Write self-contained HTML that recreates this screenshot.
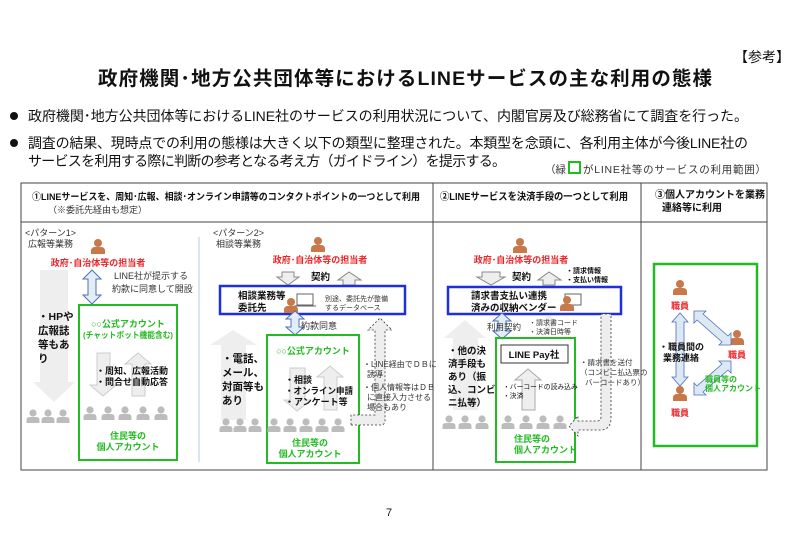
<!DOCTYPE html>
<html><head><meta charset="utf-8"><style>
html,body{margin:0;padding:0;background:#fff}
svg{display:block}
text{font-family:"Liberation Sans","Noto Sans CJK JP",sans-serif}
</style></head><body>
<svg width="800" height="533" viewBox="0 0 800 533" xmlns="http://www.w3.org/2000/svg">
<defs>
<g id="po"><circle cx="0" cy="-11" r="4" fill="#c8794a"/><path d="M-7,0 L-7,-3 Q-7,-7 -3,-7 L3,-7 Q7,-7 7,-3 L7,0 Z" fill="#c8794a"/></g>
<g id="pg"><circle cx="0" cy="-10" r="3.6" fill="#bcbcbc"/><path d="M-6.5,0 L-6.5,-3 Q-6.5,-6 -3,-6 L3,-6 Q6.5,-6 6.5,-3 L6.5,0 Z" fill="#bcbcbc"/></g>
</defs>
<text x="790" y="62" font-size="14" text-anchor="end" fill="#111">【参考】</text>
<text x="405" y="85" font-size="19.5" font-weight="bold" text-anchor="middle" fill="#111" textLength="614">政府機関･地方公共団体等におけるLINEサービスの主な利用の態様</text>
<circle cx="14" cy="116" r="4" fill="#111"/>
<text x="28" y="121" font-size="14" fill="#111" textLength="720">政府機関･地方公共団体等におけるLINE社のサービスの利用状況について、内閣官房及び総務省にて調査を行った。</text>
<circle cx="14" cy="143" r="4" fill="#111"/>
<text x="28" y="148" font-size="14" fill="#111" textLength="720">調査の結果、現時点での利用の態様は大きく以下の類型に整理された。本類型を念頭に、各利用主体が今後LINE社の</text>
<text x="28" y="166" font-size="14" fill="#111" textLength="478">サービスを利用する際に判断の参考となる考え方（ガイドライン）を提示する。</text>
<text x="545" y="173" font-size="10.5" fill="#333">（緑</text>
<rect x="569" y="162" width="11" height="11" fill="none" stroke="#22bb22" stroke-width="2"/>
<text x="583" y="173" font-size="10.5" fill="#333" textLength="183">がLINE社等のサービスの利用範囲）</text>

<rect x="21" y="183" width="746" height="287" fill="none" stroke="#444" stroke-width="1"/>
<line x1="21" y1="222" x2="767" y2="222" stroke="#444"/>
<line x1="433" y1="183" x2="433" y2="470" stroke="#444"/>
<line x1="641" y1="183" x2="641" y2="470" stroke="#444"/>
<line x1="199" y1="237" x2="199" y2="462" stroke="#b8c8dc" stroke-width="1"/>
<text x="32" y="200" font-size="9.6" font-weight="bold" fill="#111" textLength="388" lengthAdjust="spacingAndGlyphs">①LINEサービスを、周知･広報、相談･オンライン申請等のコンタクトポイントの一つとして利用</text>
<text x="48" y="213" font-size="9" fill="#333">（※委託先経由も想定）</text>
<text x="440" y="200" font-size="10" font-weight="bold" fill="#111" textLength="188" lengthAdjust="spacingAndGlyphs">②LINEサービスを決済手段の一つとして利用</text>
<text x="655" y="198" font-size="10" font-weight="bold" fill="#111">③個人アカウントを業務</text>
<text x="662" y="211" font-size="10" font-weight="bold" fill="#111">連絡等に利用</text>

<!-- Pattern 1 -->
<text x="25" y="236" font-size="9" fill="#333">&lt;パターン1&gt;</text>
<text x="28" y="247" font-size="9" fill="#333">広報等業務</text>
<use href="#po" x="98" y="254"/>
<text x="98" y="266" font-size="9" font-weight="bold" fill="#e8262a" text-anchor="middle">政府･自治体等の担当者</text>
<polygon points="40,270 68,270 68,382 75,382 54,402 33,382 40,382" fill="#eeeeee"/>
<polygon points="92,270 101,279 96,279 96,295 101,295 92,304 83,295 88,295 88,279 83,279" fill="#e4ecf6" stroke="#4a72b8" stroke-width="1"/>
<text x="114" y="279" font-size="9" fill="#333">LINE社が提示する</text>
<text x="112" y="292" font-size="9" fill="#333">約款に同意して開設</text>
<text x="38" y="320" font-size="10.5" font-weight="bold" fill="#111">・HPや</text>
<text x="38" y="334" font-size="10.5" font-weight="bold" fill="#111">広報誌</text>
<text x="38" y="348" font-size="10.5" font-weight="bold" fill="#111">等もあ</text>
<text x="38" y="362" font-size="10.5" font-weight="bold" fill="#111">り</text>
<rect x="79" y="305" width="98" height="155" fill="none" stroke="#22bb22" stroke-width="2"/>
<text x="128" y="327" font-size="9" font-weight="bold" fill="#22bb22" text-anchor="middle">○○公式アカウント</text>
<text x="128" y="338" font-size="8.5" font-weight="bold" fill="#22bb22" text-anchor="middle" textLength="90" lengthAdjust="spacingAndGlyphs">(チャットボット機能含む)</text>
<polygon points="97,353 110,353 110,385 116,385 103,396 90,385 97,385" fill="#eeeeee" stroke="#cccccc"/>
<polygon points="132,396 145,396 145,364 151,364 138,353 125,364 132,364" fill="#eeeeee" stroke="#cccccc"/>
<text x="96" y="374" font-size="9" font-weight="bold" fill="#111">・周知、広報活動</text>
<text x="96" y="385" font-size="9" font-weight="bold" fill="#111">・問合せ自動応答</text>
<use href="#pg" x="33" y="423"/><use href="#pg" x="48" y="423"/><use href="#pg" x="63" y="423"/>
<use href="#pg" x="90" y="420"/><use href="#pg" x="108" y="420"/><use href="#pg" x="125" y="420"/><use href="#pg" x="143" y="420"/><use href="#pg" x="161" y="420"/>
<text x="128" y="439" font-size="9" font-weight="bold" fill="#22bb22" text-anchor="middle">住民等の</text>
<text x="128" y="450" font-size="9" font-weight="bold" fill="#22bb22" text-anchor="middle">個人アカウント</text>

<!-- Pattern 2 -->
<text x="213" y="236" font-size="9" fill="#333">&lt;パターン2&gt;</text>
<text x="216" y="247" font-size="9" fill="#333">相談等業務</text>
<use href="#po" x="318" y="252"/>
<text x="320" y="263" font-size="9" font-weight="bold" fill="#e8262a" text-anchor="middle">政府･自治体等の担当者</text>
<polygon points="282,272 294,272 294,277 299,277 288,285 277,277 282,277" fill="#eeeeee" stroke="#888"/>
<text x="311" y="280" font-size="9.5" font-weight="bold" fill="#111">契約</text>
<polygon points="343,285 355,285 355,280 361,280 349,272 338,280 343,280" fill="#eeeeee" stroke="#888"/>
<rect x="220" y="286" width="185" height="28" fill="#fff" stroke="#1f2fe0" stroke-width="2.5"/>
<text x="238" y="299" font-size="9.5" font-weight="bold" fill="#111">相談業務等</text>
<text x="238" y="311" font-size="9.5" font-weight="bold" fill="#111">委託先</text>
<rect x="297" y="294" width="16" height="11" fill="#fff" stroke="#666"/><line x1="294" y1="306" x2="316" y2="306" stroke="#666"/>
<use href="#po" x="291" y="313"/>
<text x="325" y="301" font-size="7" fill="#333">別途、委託先が整備</text>
<text x="325" y="310" font-size="7" fill="#333">するデータベース</text>
<polygon points="295,311 304,319 299,319 299,327 304,327 295,335 286,327 291,327 291,319 286,319" fill="#e4ecf6" stroke="#4a72b8"/>
<text x="301" y="329" font-size="9" fill="#333">約款同意</text>
<polygon points="221,420 246,420 246,345 257,345 233,330 210,345 221,345" fill="#eeeeee"/>
<text x="222" y="362" font-size="10.5" font-weight="bold" fill="#111">・電話、</text>
<text x="222" y="376" font-size="10.5" font-weight="bold" fill="#111">メール、</text>
<text x="222" y="390" font-size="10.5" font-weight="bold" fill="#111">対面等も</text>
<text x="222" y="404" font-size="10.5" font-weight="bold" fill="#111">あり</text>
<rect x="267" y="335" width="92" height="128" fill="none" stroke="#22bb22" stroke-width="2"/>
<text x="313" y="354" font-size="9" font-weight="bold" fill="#22bb22" text-anchor="middle">○○公式アカウント</text>
<polygon points="290,368 305,368 305,400 311,400 297,411 284,400 290,400" fill="#eeeeee" stroke="#cccccc"/>
<polygon points="324,410 337,410 337,377 343,377 330,366 317,377 324,377" fill="#eeeeee" stroke="#cccccc"/>
<text x="285" y="383" font-size="9" font-weight="bold" fill="#111">・相談</text>
<text x="285" y="394" font-size="9" font-weight="bold" fill="#111" textLength="68" lengthAdjust="spacingAndGlyphs">・オンライン申請</text>
<text x="285" y="405" font-size="9" font-weight="bold" fill="#111">・アンケート等</text>
<path d="M351,425 L381,425 Q385,425 385,420 L385,330 L392,330 L380,318 L368,330 L375,330 L375,415 L351,415 Z" fill="#eeeeee" stroke="#333" stroke-dasharray="2,2" stroke-width="0.8"/>
<text x="363" y="367" font-size="8" fill="#333">・LINE経由でＤＢに</text>
<text x="367" y="377" font-size="8" fill="#333">誘導</text>
<text x="363" y="390" font-size="8" fill="#333">・個人情報等はＤＢ</text>
<text x="367" y="400" font-size="8" fill="#333">に直接入力させる</text>
<text x="367" y="410" font-size="8" fill="#333">場合もあり</text>
<use href="#pg" x="226" y="432"/><use href="#pg" x="240" y="432"/><use href="#pg" x="255" y="432"/>
<use href="#pg" x="274" y="432"/><use href="#pg" x="290" y="432"/><use href="#pg" x="306" y="432"/><use href="#pg" x="322" y="432"/><use href="#pg" x="338" y="432"/>
<text x="310" y="446" font-size="9" font-weight="bold" fill="#22bb22" text-anchor="middle">住民等の</text>
<text x="310" y="457" font-size="9" font-weight="bold" fill="#22bb22" text-anchor="middle">個人アカウント</text>

<!-- Column 2 -->
<use href="#po" x="520" y="253"/>
<text x="521" y="263" font-size="9" font-weight="bold" fill="#e8262a" text-anchor="middle">政府･自治体等の担当者</text>
<polygon points="482,272 500,272 500,277 505,277 491,285 477,277 482,277" fill="#eeeeee" stroke="#888"/>
<text x="512" y="280" font-size="9.5" font-weight="bold" fill="#111">契約</text>
<polygon points="543,285 555,285 555,280 561,280 549,272 538,280 543,280" fill="#eeeeee" stroke="#888"/>
<text x="566" y="273" font-size="7" font-weight="bold" fill="#111">・請求情報</text>
<text x="566" y="282" font-size="7" font-weight="bold" fill="#111">・支払い情報</text>
<rect x="448" y="287" width="173" height="27" fill="#fff" stroke="#1f2fe0" stroke-width="2.5"/>
<text x="471" y="299" font-size="9.5" font-weight="bold" fill="#111">請求書支払い連携</text>
<text x="471" y="311" font-size="9.5" font-weight="bold" fill="#111">済みの収納ベンダー</text>
<rect x="565" y="294" width="16" height="11" fill="#fff" stroke="#666"/>
<use href="#po" x="567" y="311"/>
<polygon points="502,313 511,321 506,321 506,331 511,331 502,339 493,331 498,331 498,321 493,321" fill="#e4ecf6" stroke="#4a72b8"/>
<text x="487" y="330" font-size="8.5" fill="#333">利用契約</text>
<polygon points="545,334 553,334 553,322 558,322 549,315 540,322 545,322" fill="#eeeeee"/>
<text x="529" y="325" font-size="7" fill="#333">・請求書コード</text>
<text x="529" y="334" font-size="7" fill="#333">・決済日時等</text>
<polygon points="453,410 478,410 478,338 486,338 465,320 444,338 453,338" fill="#eeeeee"/>
<text x="448" y="354" font-size="9.5" font-weight="bold" fill="#111">・他の決</text>
<text x="448" y="367" font-size="9.5" font-weight="bold" fill="#111">済手段も</text>
<text x="448" y="380" font-size="9.5" font-weight="bold" fill="#111">あり（振</text>
<text x="448" y="393" font-size="9.5" font-weight="bold" fill="#111">込、コンビ</text>
<text x="448" y="406" font-size="9.5" font-weight="bold" fill="#111">ニ払等）</text>
<rect x="496" y="338" width="79" height="124" fill="none" stroke="#22bb22" stroke-width="2"/>
<rect x="501" y="345" width="67" height="18" fill="#fff" stroke="#333" stroke-width="1"/>
<text x="534" y="358" font-size="9.5" font-weight="bold" fill="#111" text-anchor="middle">LINE Pay社</text>
<polygon points="522,410 535,410 535,380 541,380 528,369 515,380 522,380" fill="#eeeeee" stroke="#aaa"/>
<text x="503" y="389" font-size="6.8" fill="#111">・バーコードの読み込み</text>
<text x="503" y="398" font-size="6.8" fill="#111">・決済</text>
<path d="M601,314 L611,314 L611,418 Q611,430 600,430 L578,430 L578,436 L569,426 L578,416 L578,421 L597,421 Q601,421 601,417 Z" fill="#eeeeee" stroke="#333" stroke-dasharray="2,2" stroke-width="0.8"/>
<text x="580" y="365" font-size="7.5" fill="#333">・請求書を送付</text>
<text x="580" y="375" font-size="7.5" fill="#333">（コンビニ払込票の</text>
<text x="585" y="385" font-size="7.5" fill="#333">バーコードあり）</text>
<use href="#pg" x="449" y="429"/><use href="#pg" x="465" y="429"/><use href="#pg" x="482" y="429"/>
<use href="#pg" x="508" y="429"/><use href="#pg" x="526" y="429"/><use href="#pg" x="543" y="429"/><use href="#pg" x="560" y="429"/>
<text x="514" y="442" font-size="9" font-weight="bold" fill="#22bb22">住民等の</text>
<text x="514" y="453" font-size="9" font-weight="bold" fill="#22bb22">個人アカウント</text>

<!-- Column 3 -->
<rect x="654" y="264" width="103" height="182" fill="none" stroke="#22bb22" stroke-width="2.5"/>
<use href="#po" x="680" y="295"/>
<text x="680" y="309" font-size="9" font-weight="bold" fill="#e8262a" text-anchor="middle">職員</text>
<use href="#po" x="737" y="345"/>
<text x="737" y="358" font-size="9" font-weight="bold" fill="#e8262a" text-anchor="middle">職員</text>
<use href="#po" x="680" y="401"/>
<text x="680" y="416" font-size="9" font-weight="bold" fill="#e8262a" text-anchor="middle">職員</text>
<polygon points="680,313 688,322 684,322 684,377 688,377 680,386 672,377 676,377 676,322 672,322" fill="#dde8f5" stroke="#4a72b8" stroke-width="0.8"/>
<polygon points="694,311 694,323 697,320 722,342 719,345 731,345 731,333 728,336 703,314 706,311" fill="#dde8f5" stroke="#4a72b8" stroke-width="0.8"/>
<polygon points="694,395 694,383 697,386 722,364 719,361 731,361 731,373 728,370 703,392 706,395" fill="#dde8f5" stroke="#4a72b8" stroke-width="0.8"/>
<text x="659" y="350" font-size="9" font-weight="bold" fill="#111">・職員間の</text>
<text x="663" y="361" font-size="9" font-weight="bold" fill="#111">業務連絡</text>
<text x="705" y="382" font-size="8" font-weight="bold" fill="#22bb22">職員等の</text>
<text x="705" y="391" font-size="8" font-weight="bold" fill="#22bb22">個人アカウント</text>

<text x="386" y="516" font-size="11" fill="#111" font-family="Liberation Serif">7</text>
</svg>
</body></html>
